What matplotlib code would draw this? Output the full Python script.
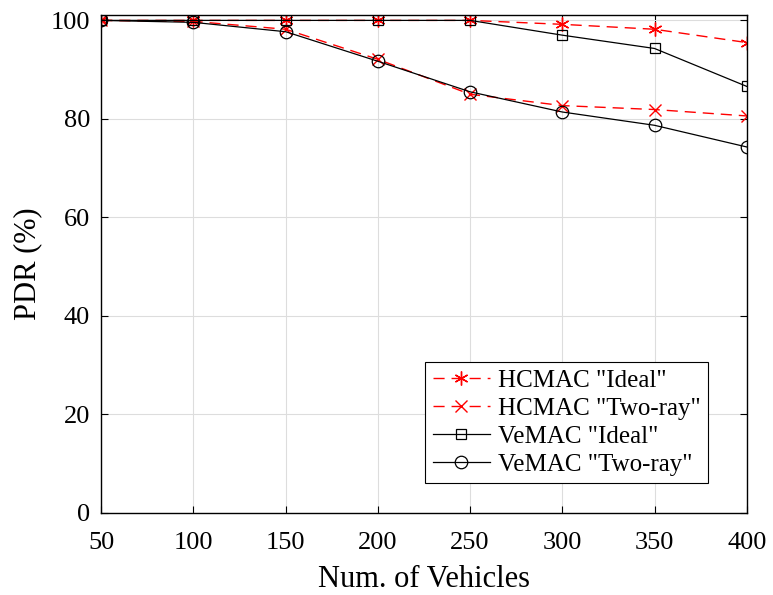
import numpy as np
import matplotlib.pyplot as plt

plt.rcParams['font.family'] = ['Liberation Serif', 'DejaVu Serif']

# Số lượng phương tiện và tỉ lệ PDR (%)
vehicles = [50, 100, 150, 200, 250, 300, 350, 400]
hcmac_ideal = [100, 100, 100, 100, 100, 99.2, 98.2, 95.5]
hcmac_tworay = [100, 99.8, 98.2, 92.1, 85.0, 82.7, 81.9, 80.6]
vemac_ideal = [100, 100, 100, 100, 100, 97.0, 94.3, 86.6]
vemac_tworay = [100, 99.6, 97.7, 91.7, 85.5, 81.4, 78.7, 74.3]

fig = plt.figure(figsize=(7.73, 5.95), dpi=100)
ax = fig.add_axes([0.131, 0.138, 0.835, 0.836])

ax.plot(vehicles, hcmac_ideal, color='red', linestyle=(0, (8, 5)), linewidth=1.0,
        marker=(6, 2, 0), markersize=10, markeredgewidth=1.0, label='HCMAC "Ideal"')
ax.plot(vehicles, hcmac_tworay, color='red', linestyle=(0, (8, 5)), linewidth=1.0,
        marker='x', markersize=8, markeredgewidth=1.0, label='HCMAC "Two-ray"')
ax.plot(vehicles, vemac_ideal, color='black', linewidth=0.9,
        marker='s', markersize=7, markerfacecolor='none', markeredgewidth=0.9,
        label='VeMAC "Ideal"')
ax.plot(vehicles, vemac_tworay, color='black', linewidth=0.9,
        marker='o', markersize=9, markerfacecolor='none', markeredgewidth=0.9,
        label='VeMAC "Two-ray"')

ax.set_xlim(50, 400)
ax.set_ylim(0, 101)
ax.set_xticks(vehicles)
ax.set_yticks([0, 20, 40, 60, 80, 100])
ax.grid(True, color='#dddddd', linewidth=0.8)
ax.tick_params(direction='in', top=True, right=True, labelsize=19, length=5, width=0.8)
ax.tick_params(axis='x', pad=14)
ax.tick_params(axis='y', pad=8)
for s in ax.spines.values():
    s.set_linewidth(1.0)

ax.set_xlabel('Num. of Vehicles', fontsize=22, labelpad=8)
ax.set_ylabel('PDR (%)', fontsize=22, labelpad=6)

leg = ax.legend(loc='lower right', bbox_to_anchor=(0.94, 0.06), fontsize=18,
                fancybox=False, edgecolor='black', framealpha=1,
                handlelength=2.3, borderpad=0.3, labelspacing=0.22, handletextpad=0.3,
                borderaxespad=0)
leg.get_frame().set_linewidth(0.8)

fig.savefig('out.png', dpi=100)
